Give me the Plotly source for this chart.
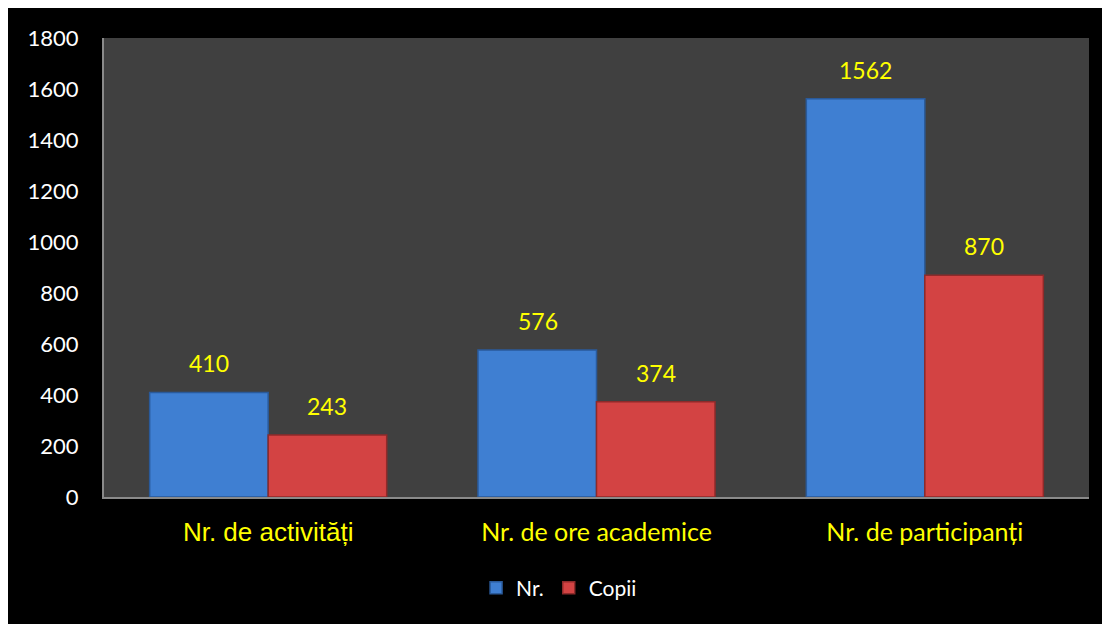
import plotly.graph_objects as go

categories = ["Nr. de activități", "Nr. de ore academice", "Nr. de participanți"]
tick_fonts = ["Liberation Sans", "Lato", "Lato"]
tick_sizes = [26, 25, 25]
series_names = ["Nr.", "Copii"]
nr_values = [410, 576, 1562]
copii_values = [243, 374, 870]
y_ticks = [0, 200, 400, 600, 800, 1000, 1200, 1400, 1600, 1800]

W, H = 1094, 640
L, R, T, B = 96, 13, 30, 151

fig = go.Figure()
fig.add_trace(go.Bar(
    name=series_names[0], x=categories, y=nr_values,
    marker=dict(color="#3f7fd2", line=dict(color="#2a5a9a", width=1.5)),
))
fig.add_trace(go.Bar(
    name=series_names[1], x=categories, y=copii_values,
    marker=dict(color="#d34343", line=dict(color="#8e2a2a", width=1.5)),
))

# data labels
for series, shift in ((nr_values, -59), (copii_values, 59)):
    for c, v in zip(categories, series):
        fig.add_annotation(x=c, y=v, text=str(v), showarrow=False,
                           xshift=shift, yshift=29, yanchor="middle",
                           font=dict(color="#ffff00", size=23, family="Lato"))

ticktext = [f'<span style="font-family:{f};font-size:{s}px">{c}</span>'
            for c, f, s in zip(categories, tick_fonts, tick_sizes)]

ph = H - T - B
def py(y):
    return (H - B - y) / ph

fig.update_layout(
    width=W, height=H,
    margin=dict(l=L, r=R, t=T, b=B),
    paper_bgcolor="black",
    plot_bgcolor="#404040",
    barmode="group",
    bargap=0.278,
    bargroupgap=0,
    showlegend=True,
    legend=dict(orientation="h", x=0.462, xanchor="center", y=py(580), yanchor="middle",
                font=dict(color="white", size=21, family="Lato"),
                itemwidth=30, bgcolor="rgba(0,0,0,0)"),
    xaxis=dict(tickvals=categories, ticktext=ticktext, showgrid=False,
               tickfont=dict(color="#ffff00", size=25, family="Lato"),
               showline=True, linecolor="#8a8a8a", linewidth=2,
               ticklabelstandoff=12, ticks=""),
    yaxis=dict(range=[0, 1800], tickvals=y_ticks, showgrid=False, zeroline=False,
               tickfont=dict(color="white", size=22, family="Lato"),
               showline=True, linecolor="#8a8a8a", linewidth=2,
               ticklabelstandoff=19, ticks=""),
)

fig.write_html("out.html")
